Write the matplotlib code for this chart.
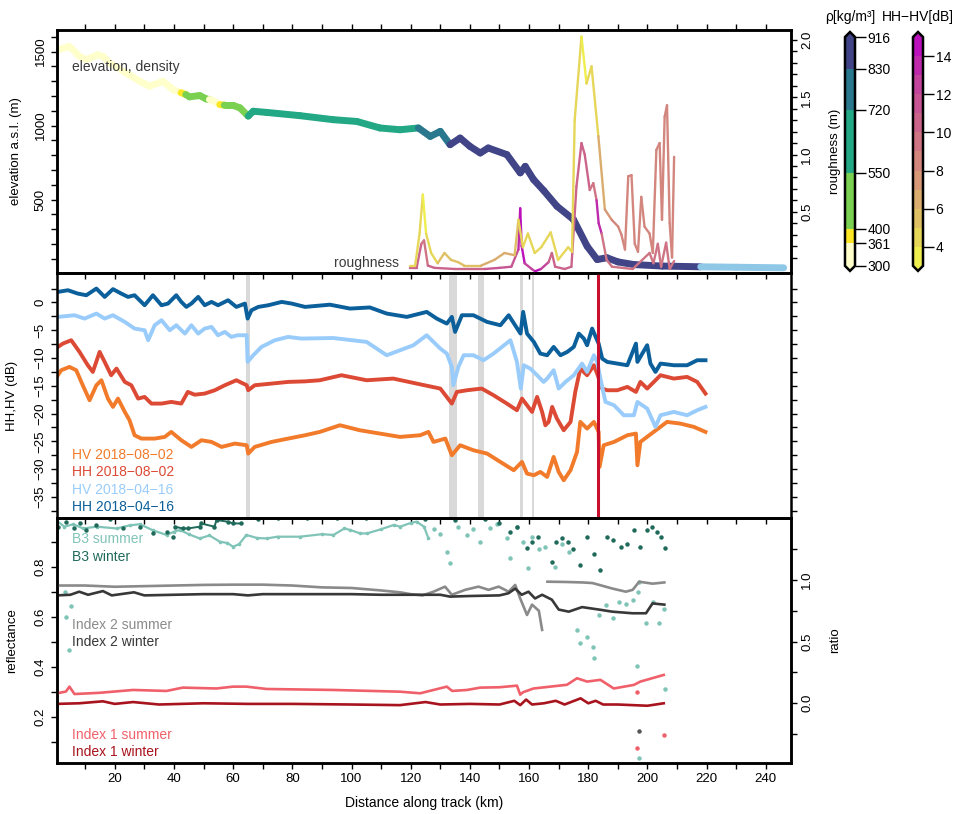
import numpy as np
import matplotlib.pyplot as plt
from matplotlib.collections import LineCollection
from matplotlib.colors import ListedColormap, BoundaryNorm, LinearSegmentedColormap
from matplotlib.cm import ScalarMappable
from matplotlib.ticker import MultipleLocator, FixedLocator

plt.rcParams['font.family'] = ['Liberation Sans', 'DejaVu Sans']
plt.rcParams['font.size'] = 9.5

# ---------------- top panel: elevation coloured by density ----------------
elev_km = [0.5, 4.7, 8.1, 10.4, 14.3, 16.0, 18.3, 23.9, 28.4, 31.8, 36.3, 39.7, 42.4, 44.0, 45.3,
           48.7, 50.9, 52.0, 53.2, 55.5, 57.0, 57.7, 60.0, 62.3, 65.1, 66.8, 71.3, 82.6, 93.8,
           101.8, 109.6, 116.4, 122.6, 126.6, 130.0, 133.3, 136.7, 140.0, 143.5, 146.2, 152.5,
           157.0, 158.7, 161.5, 165.0, 169.4, 175.0, 179.6, 183.0, 186.3, 190.0, 195.4, 205.0,
           218.0, 230.0, 246.0]
elev_m = [1511, 1534, 1467, 1445, 1478, 1467, 1422, 1355, 1299, 1266, 1299, 1243, 1222, 1210, 1194,
          1203, 1180, 1176, 1168, 1142, 1138, 1136, 1136, 1120, 1064, 1097, 1089, 1067, 1040,
          1028, 984, 972, 984, 927, 961, 871, 916, 860, 815, 849, 804,
          681, 725, 636, 560, 456, 366, 186, 96, 108, 80, 62, 52,
          47, 44, 40]
elev_rho = [330, 330, 330, 330, 330, 330, 330, 330, 330, 330, 330, 330, 380, 480, 480,
            480, 480, 330, 330, 380, 480, 480, 480, 480, 640, 640, 640, 640, 640,
            640, 640, 640, 780, 780, 780, 880, 880, 880, 880, 880, 880,
            880, 880, 880, 880, 880, 880, 880, 880, 880, 880, 880, 880,
            np.nan, np.nan, np.nan]

rho_bounds = [300, 361, 400, 550, 720, 830, 916]
rho_colors = ['#FFFFCC', '#FDE725', '#7AD151', '#22A884', '#2A788E', '#414487']

# roughness profiles, coloured by HH-HV (dB)
rA_km = [119.8, 121.5, 123.0, 124.1, 125.2, 126.9, 129.1, 131.4, 133.6, 136.0, 138.1, 143.8, 148.3,
         151.7, 155.1, 156.4, 157.9, 159.6, 161.9, 164.1, 167.3, 169.8, 173.2, 174.5, 175.4, 177.7,
         179.4, 181.1, 183.4, 185.6, 187.9, 190.1, 191.2, 192.4, 193.5, 194.6, 195.7, 196.8, 197.9,
         199.0, 200.7, 201.8, 203.0, 204.1, 204.9, 205.8, 206.6, 207.5, 208.3, 209.0]
rA_val = [0.03, 0.03, 0.31, 0.65, 0.31, 0.14, 0.05, 0.14, 0.08, 0.06, 0.03, 0.03, 0.08,
          0.14, 0.12, 0.43, 0.19, 0.31, 0.14, 0.19, 0.32, 0.08, 0.19, 0.15, 1.30, 2.03,
          1.62, 1.77, 1.16, 0.52, 0.43, 0.37, 0.30, 0.17, 0.81, 0.82, 0.22, 0.15, 0.63,
          0.37, 0.31, 0.14, 1.04, 1.10, 0.43, 1.33, 1.43, 0.40, 0.10, 0.98]
rA_dhv = [4.5, 4.5, 4, 3.8, 4, 4.5, 5, 5, 5, 5.5, 5.5, 6, 6,
          6, 5.5, 4.5, 4.5, 4.5, 4.5, 4.5, 4.5, 4.5, 4.5, 4.5, 4, 3.8,
          4, 4.5, 6.5, 7.5, 8, 8.5, 8.5, 8.5, 8.5, 8.5, 8.5, 8.5, 8.5,
          8.5, 8.5, 8.5, 8.5, 8.5, 8.5, 8.5, 8.5, 8.5, 8.5, 8.5]

rB_km = [119.8, 122.0, 123.6, 124.5, 125.8, 128.0, 135.0, 145.0, 150.0, 154.0, 156.4, 157.0, 157.5,
         158.5, 160.9, 162.0, 164.0, 166.6, 167.7, 168.8, 172.0, 174.3, 176.0, 177.7, 178.8, 180.5,
         181.7, 182.8, 183.5, 184.5, 186.2, 188.0, 195.0, 200.7, 202.0, 203.5, 204.6, 206.3, 207.5,
         209.0]
rB_val = [0.01, 0.01, 0.22, 0.25, 0.03, 0.01, 0.0, 0.0, 0.01, 0.02, 0.17, 0.53, 0.2,
          0.05, 0.0, -0.02, 0.0, 0.06, 0.14, 0.02, 0.0, 0.02, 0.72, 1.10, 1.0, 0.69,
          0.75, 0.6, 0.4, 0.31, 0.08, 0.02, 0.0, 0.14, 0.05, 0.22, 0.02, 0.23, 0.0,
          0.07]
rB_dhv = [10, 10, 9, 9, 10, 10, 10, 11, 11, 11, 13, 14, 14,
          12, 12, 14, 12, 10, 10, 10, 10, 10, 10, 10, 10, 9,
          9, 13, 13, 9, 9, 9, 9, 9, 9, 9, 9, 9, 9,
          9]

dhv_bounds = list(range(3, 16))

# ---------------- middle panel: backscatter ----------------
hh0416_km = [0.8, 4.2, 7.5, 10.4, 13.8, 16.6, 19.4, 22.2, 24.5, 26.7, 30.1, 32.9, 35.8, 38.0, 40.8,
             42.5, 44.2, 45.9, 48.2, 50.4, 52.7, 54.9, 58.3, 61.1, 64.0, 64.9, 66.2, 68.5, 71.9,
             76.4, 79.8, 84.3, 92.7, 99.5, 106.2, 111.9, 118.7, 125.4, 128.8, 132.2, 133.9, 135.0,
             137.3, 141.2, 145.8, 150.3, 153.1, 157.1, 158.0, 159.3, 161.6, 163.8, 166.1, 168.3,
             170.6, 172.9, 175.1, 176.8, 178.5, 179.6, 181.3, 182.5, 183.5, 184.7, 186.4, 189.8,
             193.2, 196.1, 196.6, 199.9, 201.0, 202.7, 204.4, 208.9, 213.4, 216.8, 219.6]
hh0416_db = [1.9, 2.2, 1.6, 1.3, 2.5, 1.0, 2.4, 1.6, 1.0, 1.3, -0.5, 1.3, -0.5, -0.2, 1.3,
             0.1, -0.8, -0.2, 1.0, -0.5, 0.1, -0.5, 0.4, -0.8, -0.2, -2.9, -1.4, -0.8, -0.5,
             0.1, -0.2, -0.8, -0.4, -1.1, -0.9, -2.0, -2.6, -1.7, -2.9, -3.8, -2.6, -5.3,
             -2.3, -2.3, -3.5, -4.1, -2.3, -5.6, -1.7, -5.6, -7.1, -9.2, -9.5, -8.0,
             -9.5, -8.9, -8.0, -5.6, -6.5, -7.7, -4.7, -6.2, -7.4, -10.1, -10.7, -11.0,
             -11.3, -7.4, -10.7, -7.7, -11.0, -12.5, -11.0, -11.3, -11.3, -10.4, -10.4]

hv0416_km = [0.8, 6.4, 9.8, 13.8, 16.6, 19.4, 23.4, 26.7, 30.1, 31.3, 33.5, 35.8, 38.6, 40.8, 43.7,
             45.9, 48.2, 50.4, 52.7, 54.9, 57.2, 59.4, 61.5, 64.6, 64.9, 66.8, 69.6, 74.1, 78.6,
             83.1, 93.8, 105.1, 111.9, 116.4, 120.9, 125.4, 130.0, 132.2, 133.9, 134.4, 136.1,
             137.9, 141.2, 144.6, 148.0, 153.7, 155.9, 157.2, 158.2, 160.4, 162.7, 164.9, 166.1,
             168.3, 170.0, 172.3, 175.1, 177.9, 179.6, 181.9, 183.0, 184.1, 185.8, 188.7, 192.0,
             195.4, 196.6, 199.9, 202.7, 204.4, 208.9, 213.4, 216.8, 219.6]
hv0416_db = [-2.6, -2.3, -2.9, -2.0, -2.9, -2.3, -3.5, -4.7, -5.0, -6.8, -4.1, -3.2, -5.0, -4.1, -5.6,
             -4.1, -5.6, -4.7, -4.4, -5.9, -5.3, -6.2, -5.9, -5.9, -10.7, -9.5, -8.0, -6.8, -6.2,
             -6.5, -6.4, -7.1, -9.5, -8.6, -7.7, -5.9, -8.3, -9.2, -11.6, -14.9, -11.6,
             -9.5, -9.5, -10.4, -9.2, -6.8, -10.7, -15.5, -11.3, -11.9, -13.1, -14.3, -13.7,
             -12.2, -15.5, -14.3, -13.1, -11.0, -12.5, -9.5, -10.7, -13.7, -17.9, -18.5, -20.3,
             -20.3, -17.9, -19.1, -22.4, -20.3, -19.7, -20.3, -19.4, -18.8]

hh0802_km = [0.8, 2.5, 5.3, 8.1, 10.9, 12.6, 14.9, 16.6, 18.8, 20.6, 23.4, 25.6, 27.9, 30.1, 32.4,
             35.8, 39.1, 42.5, 44.7, 47.0, 50.4, 53.8, 57.2, 61.1, 64.6, 65.1, 67.3, 73.0, 78.6,
             84.3, 89.3, 96.6, 105.1, 114.1, 122.0, 130.0, 133.9, 135.6, 139.0, 144.0, 148.0,
             152.5, 155.9, 157.6, 159.3, 161.0, 162.7, 164.4, 165.5, 166.6, 167.8, 169.4, 171.7,
             174.0, 175.6, 177.3, 179.6, 181.9, 183.2, 184.7, 186.4, 189.8, 193.2, 196.1, 197.6,
             199.9, 204.4, 208.9, 213.4, 216.8, 219.6]
hh0802_db = [-8.0, -7.4, -6.8, -8.9, -11.3, -12.5, -8.9, -10.7, -13.1, -11.9, -14.3, -14.9, -17.3, -17.0, -18.2,
             -18.2, -17.9, -18.2, -16.1, -16.6, -16.4, -15.8, -14.9, -14.0, -14.9, -15.8, -14.9, -14.6, -14.3,
             -14.2, -14.0, -13.1, -14.0, -13.7, -14.6, -15.5, -18.2, -16.1, -15.8, -15.5, -16.7,
             -18.2, -19.4, -17.3, -18.5, -19.7, -17.0, -19.7, -22.1, -21.5, -18.8, -20.9, -23.0,
             -21.5, -16.1, -11.9, -13.1, -11.3, -13.1, -15.5, -15.8, -15.8, -15.2, -16.1, -14.3,
             -15.5, -13.1, -13.7, -13.4, -14.3, -16.4]

hv0802_km = [0.8, 1.9, 4.7, 7.0, 9.2, 11.5, 13.8, 15.5, 17.7, 19.4, 21.1, 23.4, 25.0, 26.7, 29.0,
             33.5, 36.9, 39.1, 42.5, 45.9, 49.3, 52.7, 56.1, 60.6, 64.6, 65.1, 67.3, 73.0, 78.6,
             84.3, 89.3, 96.1, 102.8, 109.6, 116.4, 123.2, 126.0, 127.7, 131.7, 133.9, 136.7,
             141.2, 145.8, 150.3, 154.8, 157.6, 159.3, 161.6, 163.8, 166.1, 168.3, 170.0, 171.7,
             174.0, 176.2, 177.3, 179.6, 181.9, 183.5, 183.8, 185.2, 188.7, 193.2, 196.1, 196.6,
             197.6, 202.1, 206.6, 211.1, 215.7, 219.6]
hv0802_db = [-13.1, -12.2, -11.6, -12.2, -14.9, -17.6, -14.9, -14.0, -17.3, -18.8, -17.3, -19.7, -21.2, -23.9, -24.5,
             -24.5, -24.2, -23.3, -24.8, -26.0, -24.8, -25.1, -26.0, -25.4, -25.7, -27.2, -26.0, -25.1, -24.5,
             -23.9, -23.3, -22.1, -23.0, -23.6, -24.2, -23.9, -23.3, -25.1, -24.5, -27.5, -25.7,
             -26.6, -27.2, -28.7, -30.2, -28.7, -30.8, -31.1, -30.5, -31.4, -27.8, -30.5, -32.0,
             -30.2, -26.9, -21.5, -22.7, -21.5, -23.3, -29.6, -25.7, -25.1, -23.9, -23.6, -29.3,
             -25.1, -23.3, -21.5, -21.8, -22.4, -23.3]

gap_bands = [(64.3, 65.8), (133.1, 135.8), (142.9, 144.9), (157.0, 157.9), (160.9, 161.8)]
red_km = 183.4

# ---------------- bottom panel: optical ----------------
i2s_km = [0.5, 10, 20, 30, 40, 50, 60, 70, 80, 90, 100, 110, 116.4, 120, 124, 127.7, 131.6, 133.9,
          138.4, 142.9, 146.3, 149.7, 153.1, 155.3, 157.0, 159.3, 161.0, 163.3, 164.4, 165.3, 166.2,
          172, 178, 181.4, 183.7, 188.2, 192.7, 195.0, 197.2, 201.7, 205.7]
i2s_val = [0.955, 0.955, 0.945, 0.95, 0.955, 0.96, 0.962, 0.962, 0.955, 0.94, 0.935, 0.915, 0.9, 0.885,
           0.875, 0.905, 0.946, 0.88, 0.92, 0.946, 0.92, 0.946, 0.905, 0.96, 0.85, 0.716, 0.80, 0.75,
           0.595, np.nan, 0.986, 0.984, 0.98, 0.975, 0.96, 0.93, 0.905, 0.92, 0.986, 0.97, 0.98]

i2w_km = [0.5, 5, 8, 11, 16, 19, 26.5, 30, 40, 50, 60, 65, 70, 80, 90, 100, 110, 116.4, 130, 133.3,
          140, 150, 153, 155.3, 157.5, 159.8, 162, 164.4, 167.7, 170, 173.4, 177.9, 183.6, 188.1,
          194.9, 199.5, 201.7, 205.7]
i2w_val = [0.875, 0.88, 0.905, 0.88, 0.91, 0.875, 0.9, 0.875, 0.88, 0.885, 0.885, 0.875, 0.885, 0.885,
           0.885, 0.885, 0.88, 0.88, 0.88, 0.865, 0.87, 0.875, 0.892, 0.93, 0.88, 0.905, 0.85, 0.88,
           0.84, 0.76, 0.743, 0.78, 0.76, 0.743, 0.73, 0.73, 0.81, 0.80]

i1s_km = [0.3, 3.5, 4.7, 6.4, 14.9, 26.2, 37.5, 43, 54.4, 60, 64.5, 71.3, 93.9, 116.4, 123.2, 132.2,
          134, 139, 143.5, 150, 155.9, 157, 158, 161.5, 172.8, 176.2, 179.6, 184.1, 188.6, 195.4,
          197.6, 205.5]
i1s_val = [0.08, 0.095, 0.135, 0.075, 0.085, 0.108, 0.1, 0.127, 0.12, 0.135, 0.135, 0.116, 0.108, 0.094,
           0.081, 0.135, 0.1, 0.108, 0.127, 0.13, 0.143, 0.07, 0.09, 0.12, 0.15, 0.203, 0.176, 0.19,
           0.12, 0.149, 0.176, 0.23]

i1w_km = [0.3, 8, 16, 20, 26.2, 35, 50, 65, 80, 100, 116.4, 125, 130, 140, 150, 155, 157, 159, 161,
          165, 169, 172, 177.4, 180, 182.5, 185, 190, 195, 200, 205.5]
i1w_val = [-0.005, 0.0, 0.016, -0.005, 0.01, -0.01, 0.0, -0.005, -0.005, -0.01, -0.015, 0.01, -0.01,
           -0.005, -0.01, 0.02, -0.015, 0.03, -0.01, 0.0, 0.02, -0.01, 0.04, 0.0, 0.02, -0.01, -0.01,
           -0.015, -0.02, 0.0]

# outlying single ratio samples
out_i1s_km = [196.6, 205.5, 196.3]
out_i1s_val = [-0.365, -0.26, 0.09]
out_i2w_km = [197.2]
out_i2w_val = [-0.225]

b3s_km = [0.3, 3, 6, 9.3, 14, 20.6, 25, 28.5, 33, 37.5, 40, 42, 45, 48.7, 52, 55.5, 58, 60, 62, 64.5,
          68, 71.3, 75, 82.6, 90, 93.9, 97.6, 99.5, 103, 105.2, 110, 114.3, 116.4, 120, 122, 124.5, 126]
b3s_val = [0.985, 0.96, 0.97, 0.953, 0.96, 0.953, 0.965, 0.97, 0.945, 0.927, 0.94, 0.947, 0.93, 0.913,
           0.925, 0.9, 0.895, 0.88, 0.89, 0.927, 0.915, 0.913, 0.92, 0.92, 0.93, 0.927, 0.953, 0.947,
           0.933, 0.933, 0.95, 0.967, 0.96, 0.975, 0.98, 0.96, 0.913]
b3s_pts_km = [3.2, 5.3, 3.6, 4.7, 128, 130, 132.2, 133.3, 136, 139, 141, 143.5, 146.9, 149, 152.5,
              153.7, 156, 158, 159.8, 161, 163.3, 165.5, 168.8, 171, 173.4, 176.2, 177.3, 179.5,
              181.5, 182, 183.7, 186, 188.2, 190.5, 192.7, 195, 196.6, 197.2, 199.5, 201.7, 204,
              205.7, 197.2, 206, 196.8]
b3s_pts_val = [0.7, 0.644, 0.6, 0.467, 0.95, 0.93, 0.86, 0.813, 0.96, 0.927, 0.95, 0.9, 0.953, 0.97,
               0.913, 0.833, 0.96, 0.9, 0.793, 0.92, 0.87, 0.88, 0.8, 0.89, 0.86, 0.547, 0.493, 0.52,
               0.48, 0.433, 0.607, 0.647, 0.593, 0.66, 0.65, 0.667, 0.404, 0.74, 0.573, 0.66, 0.573,
               0.63, 0.034, 0.31, 0.70]

b3w_km = [1, 3.6, 6.4, 8.1, 10.4, 13.8, 18.3, 22.8, 28.5, 33, 37.5, 39.7, 40.3, 43, 44.7, 48.7, 49.2,
          53.7, 54.4, 58.2, 60, 62.7, 68.4, 75, 85, 95, 105, 115, 125, 135, 145, 150, 153.7, 156,
          159.3, 161, 163, 167.7, 169, 171.1, 173, 175, 177.3, 179.6, 182, 184.1, 186.3, 188.5,
          190.9, 193, 195.4, 197.6, 199.9, 201.5, 203.3, 204.5, 206]
b3w_val = [0.96, 0.98, 0.953, 0.973, 0.947, 0.967, 0.99, 0.953, 0.96, 0.933, 0.94, 0.92, 0.96, 0.953,
           0.953, 0.96, 0.973, 0.96, 0.987, 0.98, 0.973, 0.973, 0.99, 0.995, 0.993, 0.995, 0.993,
           0.995, 0.99, 0.985, 0.99, 0.975, 0.94, 0.96, 0.873, 0.9, 0.92, 0.82, 0.9, 0.913, 0.9,
           0.87, 0.807, 0.92, 0.85, 0.787, 0.92, 0.905, 0.88, 0.89, 0.945, 0.88, 0.947, 0.96, 0.94,
           0.92, 0.873]

# ---------------- figure ----------------
fig = plt.figure(figsize=(9.55, 8.14), dpi=100)
L, W = 0.0597, 0.7686
ax1 = fig.add_axes([L, 0.6646, W, 0.2985])
ax2 = fig.add_axes([L, 0.3636, W, 0.3010])
ax3 = fig.add_axes([L, 0.0627, W, 0.3010])
ax1r = ax1.twinx()
ax3r = ax3.twinx()
for a in (ax2, ax3):
    a.patch.set_visible(False)

xlim = (0.5, 248.5)
for a in (ax1, ax2, ax3, ax1r, ax3r):
    a.set_xlim(*xlim)
    for s in a.spines.values():
        s.set_linewidth(1.8)
    a.xaxis.set_major_locator(MultipleLocator(20))
    a.xaxis.set_minor_locator(MultipleLocator(10))
    a.tick_params(which='both', direction='out', length=4, width=1, labelsize=9.5)

ax1.tick_params(axis='x', which='both', top=True, bottom=True, labelbottom=False)
ax2.tick_params(axis='x', which='both', top=False, bottom=True, labelbottom=False)
ax3.tick_params(axis='x', which='both', top=False, bottom=True, labelbottom=True)
ax1r.tick_params(axis='x', which='both', top=False, bottom=False)
ax3r.tick_params(axis='x', which='both', top=False, bottom=False)

# density colour scale
rho_cmap = ListedColormap(rho_colors)
rho_cmap.set_bad('#8EC8E6')
rho_cmap.set_over(rho_colors[-1])
rho_cmap.set_under(rho_colors[0])
rho_norm = BoundaryNorm(rho_bounds, rho_cmap.N)

# HH-HV colour scale
base = LinearSegmentedColormap.from_list('hhhv', ['#EEEE4E', '#DDBB66', '#D5907A', '#CD6A88',
                                                  '#C44A9A', '#BB10BB'])
dhv_cmap = ListedColormap(base(np.linspace(0, 1, len(dhv_bounds) - 1)))
dhv_cmap.set_over('#BB10BB')
dhv_cmap.set_under('#EEEE4E')
dhv_norm = BoundaryNorm(dhv_bounds, dhv_cmap.N)


def coloured_line(ax, x, y, c, cmap, norm, lw):
    pts = np.column_stack([x, y])
    segs = np.stack([pts[:-1], pts[1:]], axis=1)
    lc = LineCollection(segs, cmap=cmap, norm=norm, linewidths=lw,
                        capstyle='round', joinstyle='round')
    lc.set_array(np.ma.masked_invalid(np.asarray(c[:-1], dtype=float)))
    ax.add_collection(lc)
    return lc


coloured_line(ax1, elev_km, elev_m, elev_rho, rho_cmap, rho_norm, 5.0)
ax1.set_ylim(5, 1645)
ax1.yaxis.set_major_locator(FixedLocator([500, 1000, 1500]))
ax1.yaxis.set_minor_locator(FixedLocator(np.arange(100, 1700, 100)))
ax1.set_ylabel('elevation a.s.l. (m)')
ax1.yaxis.set_label_coords(-0.048, 0.5)
ax1.text(0.021, 0.849, 'elevation, density', transform=ax1.transAxes, ha='left', va='center',
         color='#3a3a3a', fontsize=10)
ax1.text(0.466, 0.042, 'roughness', transform=ax1.transAxes, ha='right', va='center',
         color='#3a3a3a', fontsize=10)

coloured_line(ax1r, rB_km, rB_val, rB_dhv, dhv_cmap, dhv_norm, 1.7)
coloured_line(ax1r, rA_km, rA_val, rA_dhv, dhv_cmap, dhv_norm, 1.7)
ax1r.set_ylim(-0.035, 2.087)
ax1r.yaxis.set_major_locator(FixedLocator([0.5, 1.0, 1.5, 2.0]))
ax1r.yaxis.set_minor_locator(FixedLocator(np.arange(0.1, 2.05, 0.1)))
ax1r.set_yticklabels(['0.5', '1.0', '1.5', '2.0'])
ax1r.set_ylabel('roughness (m)')
ax1r.yaxis.set_label_coords(1.052, 0.5)

# middle panel
for a0, a1 in gap_bands:
    ax2.axvspan(a0, a1, color='#D9D9D9', lw=0, zorder=0)
ax2.plot(hv0802_km, hv0802_db, color='#F27B2B', lw=2.8, zorder=2)
ax2.plot(hh0802_km, hh0802_db, color='#DC4A35', lw=2.8, zorder=2)
ax2.plot(hv0416_km, hv0416_db, color='#99CCFA', lw=2.8, zorder=2)
ax2.plot(hh0416_km, hh0416_db, color='#0B5F9A', lw=2.8, zorder=2)
ax2.axvline(red_km, color='#C8102E', lw=2.2, zorder=3)
ax2.set_ylim(-38.8, 5.3)
ax2.yaxis.set_major_locator(FixedLocator(np.arange(-35, 1, 5)))
ax2.yaxis.set_minor_locator(FixedLocator(np.arange(-37.5, 5, 2.5)))
ax2.tick_params(axis='y', which='both', left=True, right=True, labelright=False)
ax2.set_ylabel('HH,HV (dB)')
ax2.yaxis.set_label_coords(-0.053, 0.5)
for txt, col, yy in [('HV 2018\u221208\u221202', '#F27B2B', 0.257),
                     ('HH 2018\u221208\u221202', '#DC4A35', 0.187),
                     ('HV 2018\u221204\u221216', '#99CCFA', 0.114),
                     ('HH 2018\u221204\u221216', '#0B5F9A', 0.044)]:
    ax2.text(0.021, yy, txt, color=col, transform=ax2.transAxes, ha='left', va='center', fontsize=10)

# bottom panel
ax3.plot(b3s_km, b3s_val, color='#80C4B8', lw=1.6, marker='o', ms=1.6, zorder=2)
ax3.plot(b3s_pts_km, b3s_pts_val, ls='none', color='#80C4B8', marker='o', ms=2.2, zorder=2)
ax3.plot(b3w_km[12:22], b3w_val[12:22], color='#1F6A5A', lw=1.4, zorder=2)
ax3.plot(b3w_km, b3w_val, ls='none', color='#1F6A5A', marker='o', ms=2.2, zorder=2)
ax3.set_ylim(0.015, 0.995)
ax3.yaxis.set_major_locator(FixedLocator([0.2, 0.4, 0.6, 0.8]))
ax3.yaxis.set_minor_locator(FixedLocator(np.arange(0.1, 1.0, 0.1)))
ax3.set_ylabel('reflectance')
ax3.yaxis.set_label_coords(-0.053, 0.5)
ax3.set_xlabel('Distance along track (km)', fontsize=10)
ax3.xaxis.set_label_coords(0.5, -0.135)

ax3r.plot(i2s_km, i2s_val, color='#8A8A8A', lw=1.9, zorder=2)
ax3r.plot(i2w_km, i2w_val, color='#383838', lw=1.9, zorder=2)
ax3r.plot(i1s_km, i1s_val, color='#F0606A', lw=1.9, zorder=2)
ax3r.plot(i1w_km, i1w_val, color='#A8141E', lw=1.9, zorder=2)
ax3r.plot(out_i1s_km, out_i1s_val, ls='none', color='#F0606A', marker='o', ms=2.2)
ax3r.plot(out_i2w_km, out_i2w_val, ls='none', color='#555555', marker='o', ms=2.2)
ax3r.set_ylim(-0.484, 1.503)
ax3r.yaxis.set_major_locator(FixedLocator([0.0, 0.5, 1.0]))
ax3r.yaxis.set_minor_locator(FixedLocator([-0.25, 0.25, 0.75, 1.25]))
ax3r.set_yticklabels(['0.0', '0.5', '1.0'])
ax3r.set_ylabel('ratio')
ax3r.yaxis.set_label_coords(1.052, 0.5)

for txt, col, yy in [('B3 summer', '#80C4B8', 0.914), ('B3 winter', '#1F6A5A', 0.842),
                     ('Index 2 summer', '#8A8A8A', 0.563), ('Index 2 winter', '#383838', 0.493),
                     ('Index 1 summer', '#F0606A', 0.114), ('Index 1 winter', '#A8141E', 0.044)]:
    ax3.text(0.021, yy, txt, color=col, transform=ax3.transAxes, ha='left', va='center', fontsize=10)

for a in (ax1, ax2, ax3, ax1r, ax3r):
    a.tick_params(axis='y', which='both', labelrotation=90)
    for lab in a.get_yticklabels():
        lab.set_va('center')

# colour bars
cax1 = fig.add_axes([0.8848, 0.6672, 0.0105, 0.2935])
cb1 = fig.colorbar(ScalarMappable(norm=rho_norm, cmap=rho_cmap), cax=cax1, extend='both',
                   extendfrac=0.022, spacing='proportional', ticks=rho_bounds)
cax2 = fig.add_axes([0.9560, 0.6672, 0.0105, 0.2935])
cb2 = fig.colorbar(ScalarMappable(norm=dhv_norm, cmap=dhv_cmap), cax=cax2, extend='both',
                   extendfrac=0.022, ticks=[4, 6, 8, 10, 12, 14])
for cb in (cb1, cb2):
    cb.outline.set_linewidth(1.8)
    cb.ax.tick_params(length=8, width=1, pad=1, labelsize=10)
    cb.ax.minorticks_off()
fig.text(0.890, 0.979, 'ρ[kg/m³]', ha='center', va='center', fontsize=10)
fig.text(0.961, 0.979, 'HH\u2212HV[dB]', ha='center', va='center', fontsize=10)

fig.savefig('out.png', dpi=100)
